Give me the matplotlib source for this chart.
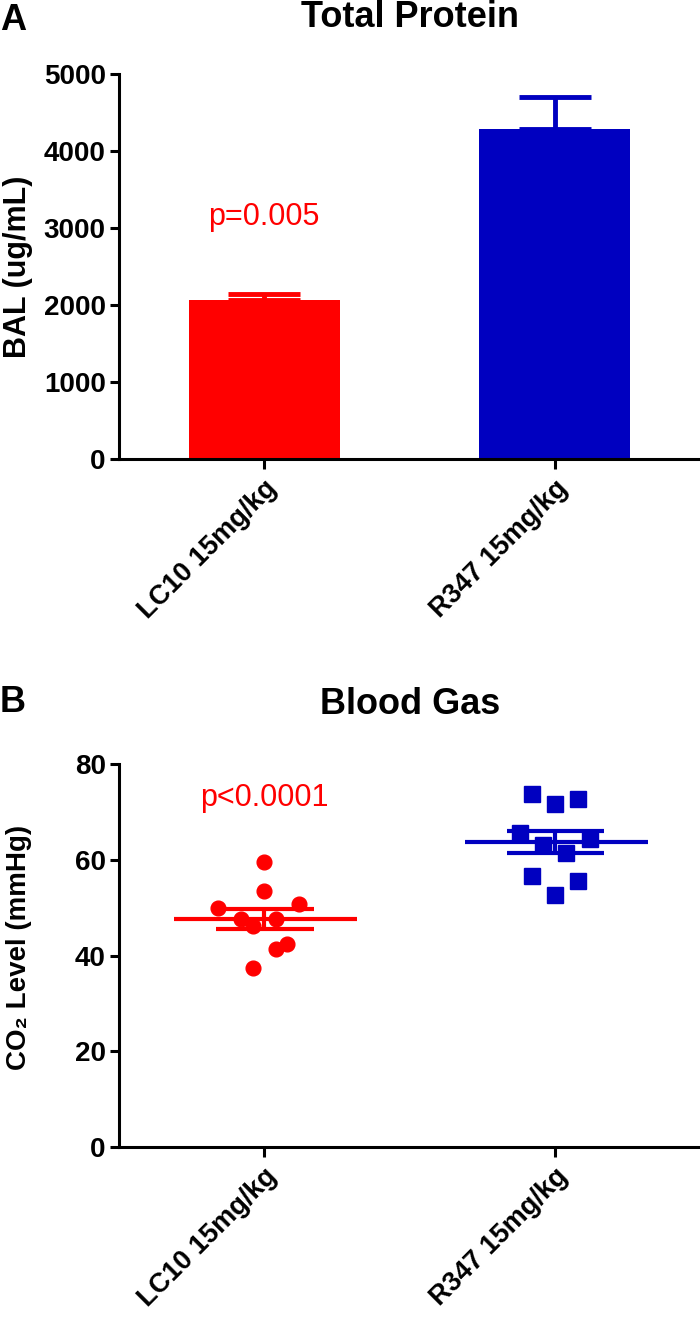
import numpy as np
import matplotlib
matplotlib.use("Agg")
import matplotlib.pyplot as plt

plt.rcParams['font.family'] = ['Liberation Sans', 'DejaVu Sans']

groups = ["LC10 15mg/kg", "R347 15mg/kg"]
colors = ["#ff0000", "#0000c0"]

# panel A: total protein in BAL, mean and SEM
protein_mean = [2070, 4284]
protein_sem = [78, 420]
protein_p = "p=0.005"

# panel B: blood gas CO2, individual animals (x offset within group, value)
lc10_dx = [0.0, 0.0, -0.16, 0.12, -0.08, -0.04, 0.04, 0.08, 0.04, -0.04]
lc10_co2 = [59.6, 53.5, 50.0, 50.7, 47.6, 46.1, 47.6, 42.4, 41.3, 37.4]
r347_dx = [-0.08, 0.0, 0.08, -0.12, -0.04, 0.04, 0.12, -0.08, 0.0, 0.08]
r347_co2 = [73.7, 71.6, 72.7, 65.5, 63.0, 61.5, 64.3, 56.6, 52.6, 55.5]
co2_p = "p<0.0001"

W, H = 700, 1318
fig = plt.figure(figsize=(W / 100, H / 100), dpi=100)

def style_axes(ax):
    for s in ("top", "right"):
        ax.spines[s].set_visible(False)
    for s in ("left", "bottom"):
        ax.spines[s].set_linewidth(2.2)
    ax.tick_params(axis="y", length=6.5, width=2.2, pad=3, labelsize=20)
    ax.tick_params(axis="x", length=7, width=2.2, pad=5, labelsize=19.5)
    ax.set_xlim(-0.5, 1.5)
    ax.set_xticks([0, 1])
    ax.set_xticklabels(groups, fontweight="bold")
    plt.setp(ax.get_xticklabels(), rotation=45, ha="right", va="top",
             rotation_mode="anchor")
    for lab in ax.get_yticklabels():
        lab.set_fontweight("bold")

# ---- A ----
axA = fig.add_axes([119 / W, 1 - 459 / H, 581 / W, 385 / H])
for i in range(2):
    axA.errorbar(i, protein_mean[i], yerr=[[0], [protein_sem[i]]], fmt="none",
                 ecolor=colors[i], elinewidth=3.5, capsize=26, capthick=3.5, zorder=1)
axA.bar([0, 1], protein_mean, width=0.52, color=colors, zorder=2)
axA.set_ylim(0, 5000)
axA.set_yticks(range(0, 5001, 1000))
style_axes(axA)
axA.set_ylabel("BAL (ug/mL)", fontsize=22, fontweight="bold")
axA.yaxis.set_label_coords(-0.148, 0.5)
axA.text(0, 3138, protein_p, color=colors[0], fontsize=22, ha="center", va="center")

# ---- B ----
axB = fig.add_axes([119 / W, 1 - 1147 / H, 581 / W, 383 / H])
for i, (dx, vals, mk, ms) in enumerate([(lc10_dx, lc10_co2, "o", 10.6),
                                         (r347_dx, r347_co2, "s", 11.3)]):
    vals = np.array(vals)
    m = vals.mean()
    sem = vals.std(ddof=1) / np.sqrt(len(vals))
    axB.plot(i + np.array(dx), vals, ls="none", marker=mk, ms=ms,
             color=colors[i], mec=colors[i], zorder=3)
    axB.hlines(m, i - 0.31, i + 0.32, color=colors[i], lw=3, zorder=4)
    axB.hlines([m - sem, m + sem], i - 0.165, i + 0.17, color=colors[i], lw=3, zorder=4)
    axB.vlines(i, m - sem, m + sem, color=colors[i], lw=3, zorder=4)
axB.set_ylim(0, 80)
axB.set_yticks(range(0, 81, 20))
style_axes(axB)
axB.set_ylabel("CO\u2082 Level (mmHg)", fontsize=20, fontweight="bold")
axB.yaxis.set_label_coords(-0.15, 0.52)
axB.text(0, 72.9, co2_p, color=colors[0], fontsize=22, ha="center", va="center")

# titles and panel letters
fig.text(410 / W, 1 - 27 / H, "Total Protein", fontsize=26, fontweight="bold",
         ha="center", va="baseline")
fig.text(410 / W, 1 - 714 / H, "Blood Gas", fontsize=26, fontweight="bold",
         ha="center", va="baseline")
fig.text(0.0, 1 - 30 / H, "A", fontsize=26, fontweight="bold", ha="left", va="baseline")
fig.text(0.0, 1 - 712 / H, "B", fontsize=26, fontweight="bold", ha="left", va="baseline")

fig.savefig("out.png", dpi=100)
